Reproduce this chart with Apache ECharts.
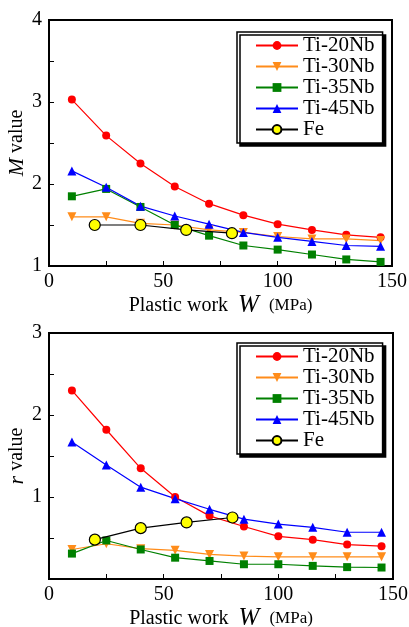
<!DOCTYPE html>
<html>
<head>
<meta charset="utf-8">
<script src="https://cdn.jsdelivr.net/npm/echarts@6/dist/echarts.min.js"></script>
<style>
	html, body { margin: 0; padding: 0; background: #fff; }
	#chart { width: 409px; height: 627px; }
</style>
</head>
<body>
<div id="chart"></div>
<script>
'use strict';

// plastic work W (MPa)
var workTi = [10, 25, 40, 55, 70, 85, 100, 115, 130, 145];
var workFe = [20, 40, 60, 80];

// M value (top panel)
var mTi20 = [3.03, 2.59, 2.25, 1.97, 1.76, 1.62, 1.51, 1.44, 1.38, 1.35];
var mTi30 = [1.60, 1.60, 1.52, 1.50, 1.44, 1.41, 1.36, 1.33, 1.33, 1.31];
var mTi35 = [1.85, 1.94, 1.72, 1.50, 1.37, 1.25, 1.20, 1.14, 1.08, 1.05];
var mTi45 = [2.16, 1.96, 1.73, 1.61, 1.51, 1.41, 1.35, 1.30, 1.25, 1.24];
var mFe = [1.50, 1.50, 1.44, 1.40];

// r value (bottom panel)
var rTi20 = [2.30, 1.82, 1.35, 1.00, 0.77, 0.64, 0.52, 0.48, 0.42, 0.40];
var rTi30 = [0.36, 0.43, 0.37, 0.35, 0.30, 0.28, 0.27, 0.27, 0.27, 0.27];
var rTi35 = [0.31, 0.47, 0.36, 0.26, 0.22, 0.18, 0.18, 0.16, 0.145, 0.14];
var rTi45 = [1.67, 1.39, 1.12, 0.98, 0.85, 0.73, 0.67, 0.63, 0.57, 0.57];
var rFe = [0.48, 0.62, 0.69, 0.75];

var names = ['Ti-20Nb', 'Ti-30Nb', 'Ti-35Nb', 'Ti-45Nb', 'Fe'];

var FONT = 'Liberation Serif';

function pairs(xs, ys) {
	return xs.map(function (x, i) { return [x, ys[i]]; });
}

var styles = {
	'Ti-20Nb': { color: '#ff0000', symbol: 'circle', size: 8, rotate: 0 },
	'Ti-30Nb': { color: '#ff8c1a', symbol: 'triangle', size: 9, rotate: 180 },
	'Ti-35Nb': { color: '#008000', symbol: 'rect', size: 8, rotate: 0 },
	'Ti-45Nb': { color: '#0000ff', symbol: 'triangle', size: 9, rotate: 0 },
	'Fe': { color: '#000000', symbol: 'circle', size: 11, rotate: 0 }
};

function makeSeries(name, idx, xs, ys) {
	var s = styles[name];
	var isFe = name === 'Fe';
	return {
		name: name,
		type: 'line',
		xAxisIndex: idx,
		yAxisIndex: idx,
		data: pairs(xs, ys),
		symbol: s.symbol,
		symbolSize: s.size,
		symbolRotate: s.rotate,
		z: isFe ? 5 : 2,
		lineStyle: { color: s.color, width: 1.2 },
		itemStyle: isFe ? { color: '#ffff00', borderColor: '#000', borderWidth: 1.2 } : { color: s.color },
		emphasis: { disabled: true },
		animation: false
	};
}

function xAxis(idx) {
	return {
		type: 'value',
		gridIndex: idx,
		min: 0, max: 150, interval: 50,
		axisLine: { show: true, lineStyle: { color: '#000', width: 2 } },
		axisTick: { show: true, inside: true, length: 5, lineStyle: { color: '#000' } },
		minorTick: { show: true, splitNumber: 2, length: 5, lineStyle: { color: '#000' } },
		splitLine: { show: false },
		axisLabel: { color: '#000', fontFamily: FONT, fontSize: 20, margin: 6 },
		name: 'Plastic work  {w|W}  {u|(MPa)}',
		nameLocation: 'middle',
		nameGap: 27,
		nameTextStyle: {
			color: '#000', fontFamily: FONT, fontSize: 20,
			rich: {
				w: { fontFamily: FONT, fontStyle: 'italic', fontSize: 25, color: '#000' },
				u: { fontFamily: FONT, fontSize: 17, color: '#000' }
			}
		}
	};
}

function yAxis(idx, min, max, letter) {
	return {
		type: 'value',
		gridIndex: idx,
		min: min, max: max, interval: 1,
		axisLine: { show: true, lineStyle: { color: '#000', width: 2 } },
		axisTick: { show: true, inside: true, length: 5, lineStyle: { color: '#000' } },
		minorTick: { show: true, splitNumber: 2, length: 5, lineStyle: { color: '#000' } },
		splitLine: { show: false },
		axisLabel: {
			color: '#000', fontFamily: FONT, fontSize: 20, margin: 7,
			formatter: function (v) { return v === 0 ? '' : String(v); }
		},
		name: '{m|' + letter + '} value',
		nameLocation: 'middle',
		nameGap: 21,
		nameMoveOverlap: false,
		nameTextStyle: {
			color: '#000', fontFamily: FONT, fontSize: 20,
			rich: {
				m: { fontFamily: FONT, fontStyle: 'italic', fontSize: 22, color: '#000' }
			}
		}
	};
}

function legend(top) {
	return {
		data: names,
		orient: 'vertical',
		left: 237,
		top: top,
		itemWidth: 42,
		itemHeight: 11,
		itemGap: 0,
		itemTextGap: 10,
		padding: [3, 8, 3, 18],
		backgroundColor: '#fff',
		borderColor: '#000',
		borderWidth: 1.5,
		shadowColor: '#000',
		shadowBlur: 0,
		shadowOffsetX: 3,
		shadowOffsetY: 3,
		selectedMode: false,
		textStyle: { color: '#000', fontFamily: FONT, fontSize: 21 }
	};
}

var chart = echarts.init(document.getElementById('chart'), null, { renderer: 'canvas' });

var series = [
	makeSeries('Ti-20Nb', 0, workTi, mTi20),
	makeSeries('Ti-30Nb', 0, workTi, mTi30),
	makeSeries('Ti-35Nb', 0, workTi, mTi35),
	makeSeries('Ti-45Nb', 0, workTi, mTi45),
	makeSeries('Fe', 0, workFe, mFe),
	makeSeries('Ti-20Nb', 1, workTi, rTi20),
	makeSeries('Ti-30Nb', 1, workTi, rTi30),
	makeSeries('Ti-35Nb', 1, workTi, rTi35),
	makeSeries('Ti-45Nb', 1, workTi, rTi45),
	makeSeries('Fe', 1, workFe, rFe)
];

chart.setOption({
	backgroundColor: '#fff',
	animation: false,
	textStyle: { fontFamily: FONT },
	grid: [
		{ left: 49, top: 20, width: 343, height: 246, show: true, borderColor: '#000', borderWidth: 2, backgroundColor: 'transparent', containLabel: false, outerBoundsMode: 'none' },
		{ left: 49, top: 333, width: 344, height: 246, show: true, borderColor: '#000', borderWidth: 2, backgroundColor: 'transparent', containLabel: false, outerBoundsMode: 'none' }
	],
	legend: [legend(32), legend(343)],
	xAxis: [xAxis(0), xAxis(1)],
	yAxis: [yAxis(0, 1, 4, 'M'), yAxis(1, 0, 3, 'r')],
	series: series
});
</script>
</body>
</html>
